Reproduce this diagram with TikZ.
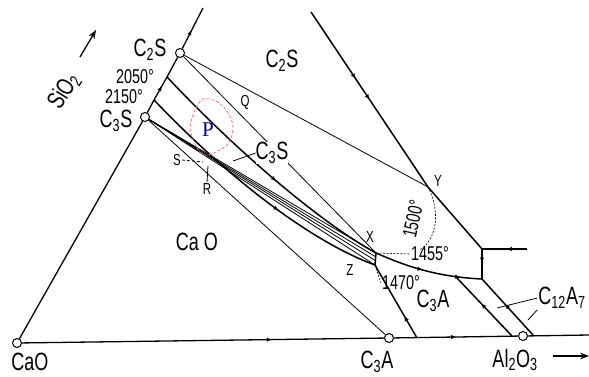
\documentclass[tikz,border=0pt]{standalone}
\usepackage{fontspec}
\setmainfont{Liberation Sans}[FakeStretch=0.72]
\newfontfamily\pfont{Liberation Serif}
\usetikzlibrary{arrows.meta,positioning,decorations.markings}

\newcommand\idx[1]{\textsubscript{#1}}

\begin{document}
\begin{tikzpicture}[
    x=1pt, y=-1pt, >=Stealth,
    comp/.style={circle, draw, fill=white, line width=1pt, minimum size=9pt, inner sep=0pt},
    big/.style={font=\fontsize{25}{25}\selectfont, inner sep=1pt},
    temp/.style={font=\fontsize{20}{20}\selectfont, inner sep=1pt},
    pointlbl/.style={font=\fontsize{16}{16}\selectfont, inner sep=1pt},
    side/.style={line width=1.3pt},
    boundary/.style={line width=1.5pt},
    tie/.style={line width=0.8pt},
    isotherm/.style={line width=0.6pt, dash pattern=on 2pt off 1.5pt},
    flow/.style={postaction={decorate, decoration={markings, mark=at position #1 with {\arrow{Latex[length=5pt,width=4.5pt]}}}}}
]
\useasboundingbox (0,0) rectangle (589,376);

% compositions on the edges
\node[comp] (cao) at (17,343) {};
\node[comp] (c3a) at (389,338) {};
\node[comp] (al) at (523,336) {};
\node[comp] (c3s) at (145,117) {};
\node[comp] (c2s) at (180,53) {};

% points of the boundary curves
\coordinate (top) at (203,8);
\coordinate (e1) at (167,77);
\coordinate (e2) at (154,100);
\coordinate (x) at (376,253);
\coordinate (z) at (375,265);
\coordinate (xz1) at (376,257);
\coordinate (xz2) at (376,261);
\coordinate (y) at (428,187);
\coordinate (topr) at (311,12);
\coordinate (k) at (482,249);
\coordinate (k2) at (482,279);
\coordinate (rt) at (527,249);
\coordinate (l1) at (456,277);
\coordinate (l1b) at (512,336);
\coordinate (l2b) at (533,335);
\coordinate (zb) at (417,338);
\coordinate (baseend) at (589,335);

% triangle sides
\draw[side] (cao) -- (c3s);
\draw[side] (c3s) -- (e2);
\draw[side, flow=0.6] (e2) -- (e1);
\draw[side] (e1) -- (c2s);
\draw[side, flow=0.45] (c2s) -- (top);
\draw[side, flow=0.69] (cao) -- (c3a);
\draw[side, flow=0.5] (c3a) -- (al);
\draw[side] (al) -- (baseend);

% tie lines
\draw[tie] (c2s) -- (y);
\draw[tie] (c2s) -- (x);
\draw[tie] (c3s) -- (x);
\draw[tie] (c3s) -- (xz1);
\draw[tie] (c3s) -- (xz2);
\draw[tie] (c3s) -- (z);
\draw[tie] (c3s) -- (c3a);

% boundary curves
\draw[boundary, flow=0.55] (e1) .. controls (250,165) and (330,228) .. (x);
\draw[boundary, flow=0.6] (e2) .. controls (240,190) and (320,245) .. (z);
\draw[boundary] (x) -- (z);
\draw[boundary, flow=0.3] (zb) .. controls (395,300) .. (z);
\draw[boundary, flow=0.45, flow=0.8] (x) .. controls (410,268) and (440,277) .. (k2);
\draw[boundary, flow=0.38, flow=0.5] (topr) -- (y);
\draw[boundary] (y) -- (k);
\draw[boundary, flow=0.45] (rt) -- (k);
\draw[boundary, flow=0.45] (k) -- (k2);
\draw[boundary, flow=0.55] (l1b) -- (l1);
\draw[boundary, flow=0.55] (l2b) -- (k2);

% isotherm and region P
\draw[isotherm] (y) .. controls (440,210) and (438,238) .. (420,250);
\draw[red!60, densely dashed, line width=0.7pt] plot[smooth cycle] coordinates {(203,99) (216,101) (227,111) (233,126) (229,143) (216,152) (204,155) (196,146) (190,128) (195,110)};

% labels
\node[big] (c2sedge) at (150,50) {C\idx{2}S};
\node[big] (c3sedge) at (116,121) {C\idx{3}S};
\node[temp] (t2050) at (135,77) {2050°};
\node[temp] (t2150) at (124,97) {2150°};
\node[big, rotate=58] (sio2) at (64,91) {SiO\idx{2}};
\coordinate (sioa) at (80,57);
\coordinate (siob) at (96,30);
\draw[side, ->] (sioa) -- (siob);

\node[big] (c2sfield) at (282,61) {C\idx{2}S};
\node[big, fill=white, inner sep=0pt] (c3sfield) at (272,153) {C\idx{3}S};
\coordinate (c3stick) at (233,161);
\draw[tie] (c3stick) -- (c3sfield.west);
\node[big] (caofield) at (197,242) {Ca O};
\node[big] (c3afield) at (433,301) {C\idx{3}A};
\node[big] (c12a7) at (562,298) {C\idx{12}A\idx{7}};
\coordinate (c12a) at (497,308);
\coordinate (c12b) at (528,320);
\draw[tie] (c12a7.west) -- (c12a);
\draw[tie] (c12a7.south west) -- (c12b);

\node[big] (caolbl) at (30,362) {CaO};
\node[big] (c3albl) at (377,362) {C\idx{3}A};
\node[big] (allbl) at (515,360) {Al\idx{2}O\idx{3}};
\coordinate (ala) at (553,356);
\coordinate (alb) at (589,356);
\draw[side, ->] (ala) -- (alb);

\node[pointlbl] (qlbl) at (245,102) {Q};
\node[pointlbl] (slbl) at (177,160) {S};
\coordinate (spt) at (203,162);
\draw[tie, densely dashed] (slbl.east) -- (spt);
\node[pointlbl, fill=white] (rlbl) at (207,189) {R};
\coordinate (rpt) at (208,166);
\draw[tie] (rlbl.north) -- (rpt);
\node[font=\pfont\fontsize{21}{21}\selectfont, text=blue!55!black] (plbl) at (208,130) {P};
\node[pointlbl] (xlbl) at (370,237) {X};
\node[pointlbl] (ylbl) at (438,181) {Y};
\node[pointlbl] (zlbl) at (350,270) {Z};
\node[temp, rotate=78] (t1500) at (413,219) {1500°};
\node[temp] (t1455) at (430,254) {1455°};
\draw[isotherm] (x) -- (t1455.west);
\node[temp] (t1470) at (401,283) {1470°};
\draw[isotherm] (z) -- (t1470.west);
\end{tikzpicture}
\end{document}
